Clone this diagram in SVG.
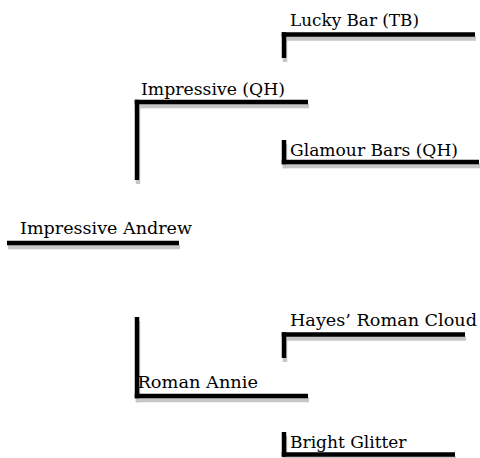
<svg xmlns="http://www.w3.org/2000/svg" xmlns:xlink="http://www.w3.org/1999/xlink" width="480" height="458" viewBox="0 0 480 458">
  <defs>
    <filter id="soft" x="-5%" y="-20%" width="110%" height="140%">
      <feGaussianBlur stdDeviation="0.5"/>
    </filter>
    <style>
      .rule { fill: none; stroke-width: 4.5; stroke-linecap: butt; stroke-linejoin: miter; }
      .label { font-family: "DejaVu Serif", "Liberation Serif", serif; font-size: 17.3px; fill: #000; stroke: none; }
    </style>
  </defs>
  <rect width="480" height="458" fill="#fff"/>

  <!-- drop shadow under every rule and stem -->
  <g id="shadows" stroke="#c6c6c6" transform="translate(1,4)" filter="url(#soft)">
    <use href="#connectors" xlink:href="#connectors"/>
    <use href="#rule-andrew" xlink:href="#rule-andrew"/>
    <use href="#rule-impressive" xlink:href="#rule-impressive"/>
    <use href="#rule-annie" xlink:href="#rule-annie"/>
    <use href="#rule-lucky" xlink:href="#rule-lucky"/>
    <use href="#rule-glamour" xlink:href="#rule-glamour"/>
    <use href="#rule-hayes" xlink:href="#rule-hayes"/>
    <use href="#rule-glitter" xlink:href="#rule-glitter"/>
  </g>

  <g id="tree" stroke="#000">
    <!-- vertical stems linking each parent to its child line -->
    <g id="connectors">
      <path class="rule" d="M137,99.75 V180"/>
      <path class="rule" d="M137,317 V398.25"/>
      <path class="rule" d="M284,32.25 V58"/>
      <path class="rule" d="M284,140 V164.25"/>
      <path class="rule" d="M284,332.25 V358"/>
      <path class="rule" d="M284,432 V456.75"/>
    </g>

    <g id="node-impressive-andrew">
      <path id="rule-andrew" class="rule" d="M7,243 H179"/>
      <text class="label" x="20" y="234" textLength="172" lengthAdjust="spacingAndGlyphs">Impressive Andrew</text>
    </g>

    <g id="node-impressive-qh">
      <path id="rule-impressive" class="rule" d="M134.75,102 H308"/>
      <text class="label" x="141" y="95" textLength="144" lengthAdjust="spacingAndGlyphs">Impressive (QH)</text>
    </g>

    <g id="node-roman-annie">
      <path id="rule-annie" class="rule" d="M134.75,396 H308"/>
      <text class="label" x="137.5" y="387.5" textLength="120.5" lengthAdjust="spacingAndGlyphs">Roman Annie</text>
    </g>

    <g id="node-lucky-bar">
      <path id="rule-lucky" class="rule" d="M281.75,34.5 H475"/>
      <text class="label" x="290" y="25.5" textLength="129" lengthAdjust="spacingAndGlyphs">Lucky Bar (TB)</text>
    </g>

    <g id="node-glamour-bars">
      <path id="rule-glamour" class="rule" d="M281.75,162 H479"/>
      <text class="label" x="290" y="156" textLength="168" lengthAdjust="spacingAndGlyphs">Glamour Bars (QH)</text>
    </g>

    <g id="node-hayes-roman-cloud">
      <path id="rule-hayes" class="rule" d="M281.75,334.5 H465"/>
      <text class="label" x="290" y="326" textLength="187" lengthAdjust="spacingAndGlyphs">Hayes’ Roman Cloud</text>
    </g>

    <g id="node-bright-glitter">
      <path id="rule-glitter" class="rule" d="M281.75,454.5 H455"/>
      <text class="label" x="290" y="447.5" textLength="116.5" lengthAdjust="spacingAndGlyphs">Bright Glitter</text>
    </g>
  </g>
</svg>
